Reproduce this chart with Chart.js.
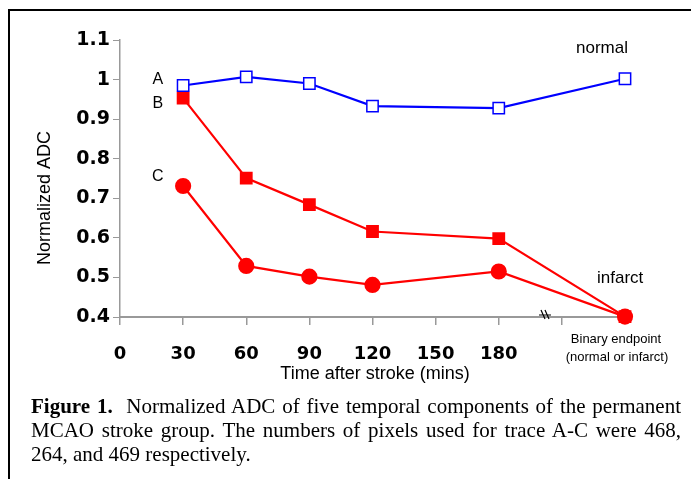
<!DOCTYPE html>
<html>
<head>
<meta charset="utf-8">
<script src="https://cdn.jsdelivr.net/npm/chart.js@4.4.1/dist/chart.umd.min.js"></script>
<style>
  body { margin: 0; background: #fff; }
  #wrap { position: relative; width: 691px; height: 479px; overflow: hidden; }
  #frame { position: absolute; left: 8px; top: 9px; width: 700px; height: 500px;
           border-left: 2px solid #000; border-top: 2px solid #000; }
  canvas { position: absolute; left: 0; top: 0; }
  #caption { position: absolute; left: 31px; top: 394px; width: 650px;
             font-family: "Liberation Serif", "Times New Roman", serif; font-size: 21px;
             line-height: 24px; color: #000; }
  #caption div { text-align: justify; text-align-last: justify; white-space: nowrap; }
  #caption div.last { text-align-last: left; }
</style>
</head>
<body>
<div id="wrap">
  <div id="frame"></div>
  <canvas id="grafica" width="691" height="479"></canvas>
  <div id="caption">
    <div><b>Figure 1.</b>&nbsp; Normalized ADC of five temporal components of the permanent</div>
    <div>MCAO stroke group. The numbers of pixels used for trace A-C were 468,</div>
    <div class="last">264, and 469 respectively.</div>
  </div>
</div>
<script>

// minutos despues del infarto (240 = punto final binario)
const tiempos = [30, 60, 90, 120, 180, 240];
const trazaA = [0.985, 1.007, 0.99, 0.933, 0.928, 1.002];
const trazaB = [0.953, 0.751, 0.684, 0.616, 0.598, 0.401];
const trazaC = [0.731, 0.529, 0.502, 0.481, 0.515, 0.401];
const ticksX = [0, 30, 60, 90, 120, 150, 180];

const aPuntos = (arr) => tiempos.map((t, i) => ({ x: t, y: arr[i] }));

const etiquetas = {
    id: 'etiquetas',
    afterDatasetsDraw(chart) {
        const ctx = chart.ctx;
        const x = chart.scales.x;
        const y = chart.scales.y;
        ctx.save();
        ctx.fillStyle = '#000';
        ctx.textBaseline = 'middle';
        ctx.font = '16px "Liberation Sans", Arial, sans-serif';
        ctx.textAlign = 'center';
        ctx.fillText('A', x.getPixelForValue(18), y.getPixelForValue(1.0));
        ctx.fillText('B', x.getPixelForValue(18), y.getPixelForValue(0.94));
        ctx.fillText('C', x.getPixelForValue(18), y.getPixelForValue(0.755));

        ctx.font = '17px "Liberation Sans", Arial, sans-serif';
        ctx.textAlign = 'left';
        ctx.fillText('normal', 576, 48);
        ctx.fillText('infarct', 597, 278);

        ctx.font = '13px "Liberation Sans", Arial, sans-serif';
        ctx.textAlign = 'center';
        ctx.fillText('Binary endpoint', 616, 339);
        ctx.fillText('(normal or infarct)', 617, 357);

        // titulos de los ejes
        ctx.font = '18px "Liberation Sans", Arial, sans-serif';
        ctx.fillText('Time after stroke (mins)', 375, 374);
        ctx.save();
        ctx.translate(45, 198);
        ctx.rotate(-Math.PI / 2);
        ctx.font = '18px "Liberation Sans", Arial, sans-serif';
        ctx.fillText('Normalized ADC', 0, 0);
        ctx.restore();

        // marca de corte en el eje x
        ctx.strokeStyle = '#000';
        ctx.lineWidth = 1.2;
        const bx = 546, by = y.bottom - 2;
        ctx.beginPath();
        ctx.moveTo(bx - 5, by - 5); ctx.lineTo(bx - 1, by + 4);
        ctx.moveTo(bx - 1, by - 5); ctx.lineTo(bx + 3, by + 4);
        ctx.moveTo(bx - 7, by); ctx.lineTo(bx + 5, by);
        ctx.stroke();
        ctx.restore();
    }
};

new Chart('grafica', {
    type: 'line',
    data: {
        datasets: [{
            label: 'A',
            data: aPuntos(trazaA),
            borderColor: '#0000ff',
            backgroundColor: '#ffffff',
            pointBorderColor: '#0000ff',
            pointStyle: 'rect',
            pointRadius: 8,
            pointBorderWidth: 1.5,
            borderWidth: 2.2,
            clip: false
        }, {
            label: 'B',
            data: aPuntos(trazaB),
            borderColor: '#ff0000',
            backgroundColor: '#ff0000',
            pointStyle: 'rect',
            pointRadius: 7.5,
            borderWidth: 2.2,
            clip: false
        }, {
            label: 'C',
            data: aPuntos(trazaC),
            borderColor: '#ff0000',
            backgroundColor: '#ff0000',
            pointStyle: 'circle',
            pointRadius: 7,
            borderWidth: 2.2,
            clip: false
        }]
    },
    options: {
        responsive: false,
        animation: false,
        layout: { padding: { top: 40, right: 66, left: 0, bottom: 0 } },
        plugins: {
            legend: { display: false },
            tooltip: { enabled: false }
        },
        scales: {
            x: {
                type: 'linear',
                min: 0,
                max: 240,
                afterFit: (s) => { s.height = 162; },
                afterBuildTicks: (s) => { s.ticks = [0, 30, 60, 90, 120, 150, 180, 210].map(v => ({ value: v })); },
                border: { color: '#999', width: 2 },
                grid: { drawOnChartArea: false, tickLength: 8, color: '#999', lineWidth: 1.5 },
                ticks: {
                    padding: 19,
                    color: '#000',
                    font: { family: 'DejaVu Sans', weight: 'bold', size: 18 },
                    callback: (v) => ticksX.includes(v) ? String(v) : ''
                }
            },
            y: {
                min: 0.4,
                max: 1.1,
                afterFit: (s) => { s.width = 120; },
                border: { color: '#999', width: 1.5 },
                grid: { drawOnChartArea: false, tickLength: 7, color: '#999' },
                ticks: {
                    stepSize: 0.1,
                    padding: 3,
                    color: '#000',
                    font: { family: 'DejaVu Sans', weight: 'bold', size: 19 },
                    callback: (v) => Number(v.toFixed(1)).toString()
                }
            }
        }
    },
    plugins: [etiquetas]
});
</script>
</body>
</html>
